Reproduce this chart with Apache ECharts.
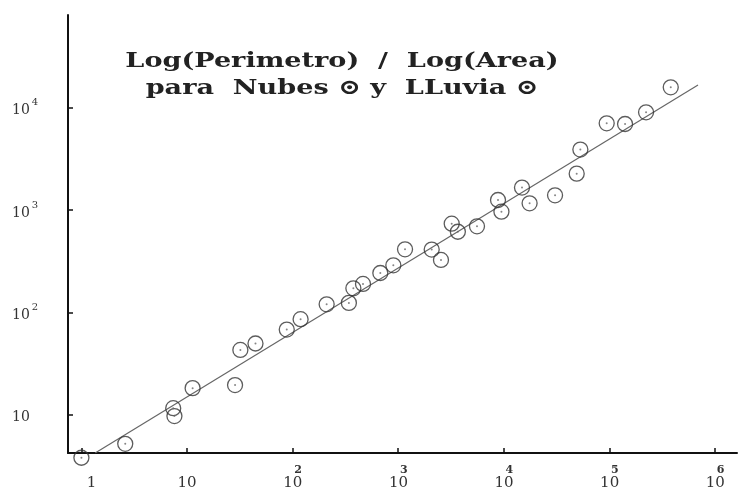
<!DOCTYPE html>
<html>
<head>
<meta charset="utf-8">
<script src="https://cdn.jsdelivr.net/npm/echarts@6/dist/echarts.min.js"></script>
<style>
    html, body { margin: 0; padding: 0; background: #fff; }
    #chart { width: 738px; height: 491px; }
</style>
</head>
<body>
<div id="chart"></div>
<script>
// valores (area, perimetro)
var areaValues = [1.0, 2.6, 7.4, 7.6, 11.3, 28.5, 32, 44.5, 88, 119, 210, 341, 376, 464, 677, 899,
    1160, 2075, 2540, 3210, 3670, 5570, 8810, 9490, 14860, 17540, 30550, 48980, 53060,
    94200, 140600, 222300, 380700];
var perimValues = [3.8, 5.2, 11.6, 9.7, 18.2, 19.5, 43, 49.7, 68, 86, 120, 124, 172, 190, 243, 289,
    414, 412, 326, 737, 615, 695, 1256, 966, 1663, 1167, 1396, 2275, 3908,
    7063, 6950, 9049, 15880];

// recta de ajuste (extremos)
var fitArea = [1.35, 690000];
var fitPerim = [4.23, 16700];

// etiquetas de los ejes, por exponente
var xTickLabels = ['1', '10', '10^2', '10^3', '10^4', '10^5', '10^6'];
var yTickLabels = ['1', '10', '10^2', '10^3', '10^4'];

var titleLines = ['Log(Perimetro)  /  Log(Area)', 'para  Nubes \u2299 y  LLuvia \u2299'];

(function () {
    "use strict";

    var myChart = echarts.init(document.getElementById('chart'), null, {renderer: 'canvas'}),
        points = [],
        fitLine = [],
        i,

        makeFormatter = function (labels) {
            return function (value) {
                var e = Math.round(Math.log(value) / Math.LN10),
                    t = labels[e] || '',
                    parts = t.split('^');
                if (parts.length > 1) {
                    return '{b|' + parts[0] + '}{s|' + parts[1] + '}';
                }
                // el "1" va algo desplazado a la derecha en el original
                return e === 0 ? '{o|' + t + '}' : '{n|' + t + '}';
            };
        },

        labelFont = {fontFamily: 'DejaVu Serif', color: '#333'};

    for (i = 0; i < areaValues.length; i++) {
        points.push([areaValues[i], perimValues[i]]);
    }
    for (i = 0; i < fitArea.length; i++) {
        fitLine.push([fitArea[i], fitPerim[i]]);
    }

    myChart.setOption({
        animation: false,
        backgroundColor: '#fff',
        grid: {left: 68, right: 1, top: 15, bottom: 38},
        graphic: [{
            type: 'text',
            x: 342,
            y: 48,
            scaleX: 1.29,
            style: {
                text: titleLines.join('\n'),
                font: 'bold 21px "DejaVu Serif"',
                lineHeight: 27,
                align: 'center',
                verticalAlign: 'top',
                fill: '#222'
            }
        }],
        xAxis: {
            type: 'log',
            logBase: 10,
            min: Math.pow(10, -0.127),
            max: Math.pow(10, 6.208),
            splitLine: {show: false},
            axisLine: {lineStyle: {color: '#111', width: 2}},
            axisTick: {inside: true, length: 5, lineStyle: {color: '#111', width: 1.5}},
            axisLabel: {
                showMinLabel: false,
                showMaxLabel: false,
                margin: 12,
                formatter: makeFormatter(xTickLabels),
                rich: {
                    b: echarts.util.extend({fontSize: 15, lineHeight: 26, width: 11, align: 'left', verticalAlign: 'bottom'}, labelFont),
                    s: echarts.util.extend({fontSize: 11, fontWeight: 'bold', lineHeight: 26, verticalAlign: 'top'}, labelFont),
                    n: echarts.util.extend({fontSize: 15, lineHeight: 26, verticalAlign: 'bottom'}, labelFont),
                    o: echarts.util.extend({fontSize: 15, lineHeight: 26, verticalAlign: 'bottom', padding: [0, 0, 0, 20]}, labelFont)
                }
            }
        },
        yAxis: {
            type: 'log',
            logBase: 10,
            min: Math.pow(10, 0.626),
            max: Math.pow(10, 4.9076),
            splitLine: {show: false},
            axisLine: {lineStyle: {color: '#111', width: 2}},
            axisTick: {inside: true, length: 5, lineStyle: {color: '#111', width: 1.5}},
            axisLabel: {
                showMinLabel: false,
                showMaxLabel: false,
                margin: 56,
                align: 'left',
                formatter: makeFormatter(yTickLabels),
                rich: {
                    b: echarts.util.extend({fontSize: 14, lineHeight: 20, verticalAlign: 'bottom'}, labelFont),
                    s: echarts.util.extend({fontSize: 10, lineHeight: 20, verticalAlign: 'top', padding: [0, 0, 0, 2]}, labelFont),
                    n: echarts.util.extend({fontSize: 14, lineHeight: 20, verticalAlign: 'bottom'}, labelFont)
                }
            }
        },
        series: [{
            type: 'line',
            data: fitLine,
            symbol: 'none',
            lineStyle: {color: '#666', width: 1.2},
            z: 1
        }, {
            type: 'scatter',
            data: points,
            symbol: 'circle',
            symbolSize: 15,
            clip: false,
            itemStyle: {color: 'rgba(0,0,0,0)', borderColor: '#333', borderWidth: 1.3},
            z: 2
        }, {
            type: 'scatter',
            data: points,
            symbol: 'circle',
            symbolSize: 2,
            clip: false,
            itemStyle: {color: '#666'},
            z: 3
        }]
    });
})();
</script>
</body>
</html>
